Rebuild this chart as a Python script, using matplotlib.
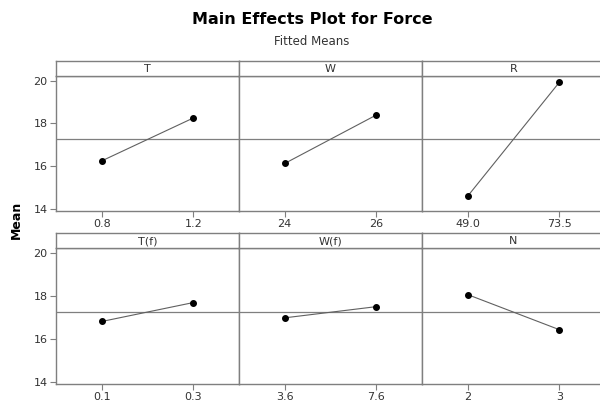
import numpy as np
import matplotlib.pyplot as plt

# factor names, level labels and fitted means (row by row)
factors = ["T", "W", "R", "T(f)", "W(f)", "N"]
levels = [["0.8", "1.2"], ["24", "26"], ["49.0", "73.5"],
          ["0.1", "0.3"], ["3.6", "7.6"], ["2", "3"]]
means = [[16.24, 18.25], [16.12, 18.39], [14.59, 19.92],
         [16.80, 17.68], [16.97, 17.49], [18.05, 16.42]]
grand_mean = 17.25
yticks = [14, 16, 18, 20]

frame_col = "#7f7f7f"
text_col = "#333333"

fig = plt.figure(figsize=(6, 4), dpi=100)

# panel geometry in pixels (figure is 600 x 400)
col_left = [56, 239, 422]
col_w = 183
rows = [(76, 211, 61), (248, 384, 233)]  # plot top, plot bottom, strip top

for i, name in enumerate(factors):
    r, c = divmod(i, 3)
    top, bot, stop = rows[r]
    ax = fig.add_axes([col_left[c] / 600, 1 - bot / 400, col_w / 600, (bot - top) / 400])
    sx = fig.add_axes([col_left[c] / 600, 1 - top / 400, col_w / 600, (top - stop) / 400])

    x = np.arange(len(levels[i]))
    ax.axhline(grand_mean, color=frame_col, lw=0.9, zorder=1)
    ax.plot(x, means[i], color="#606060", lw=0.8, zorder=2)
    ax.plot(x, means[i], "o", color="black", ms=4, zorder=3)
    ax.set_xlim(-0.5, 1.5)
    ax.set_ylim(13.89, 20.22)
    ax.set_xticks(x)
    ax.set_xticklabels(levels[i])
    ax.set_yticks(yticks)
    ax.tick_params(colors=frame_col, labelcolor=text_col, labelsize=8, length=4, width=0.8, pad=2)
    if c != 0:
        ax.tick_params(axis="y", left=False, labelleft=False)
    for sp in ax.spines.values():
        sp.set_color(frame_col)
        sp.set_linewidth(1.0)

    sx.set_xticks([])
    sx.set_yticks([])
    for sp in sx.spines.values():
        sp.set_color(frame_col)
        sp.set_linewidth(1.0)
    sx.text(0.5, 0.45, name, ha="center", va="center", fontsize=8, color=text_col,
            transform=sx.transAxes)

fig.text(0.52, 0.95, "Main Effects Plot for Force", ha="center", va="center",
         fontsize=11.5, fontweight="bold", color="black")
fig.text(0.52, 0.897, "Fitted Means", ha="center", va="center", fontsize=8.5, color=text_col)
fig.text(0.028, 0.45, "Mean", ha="center", va="center", rotation=90,
         fontsize=9, fontweight="bold", color="black")

fig.savefig("out.png", dpi=100)
